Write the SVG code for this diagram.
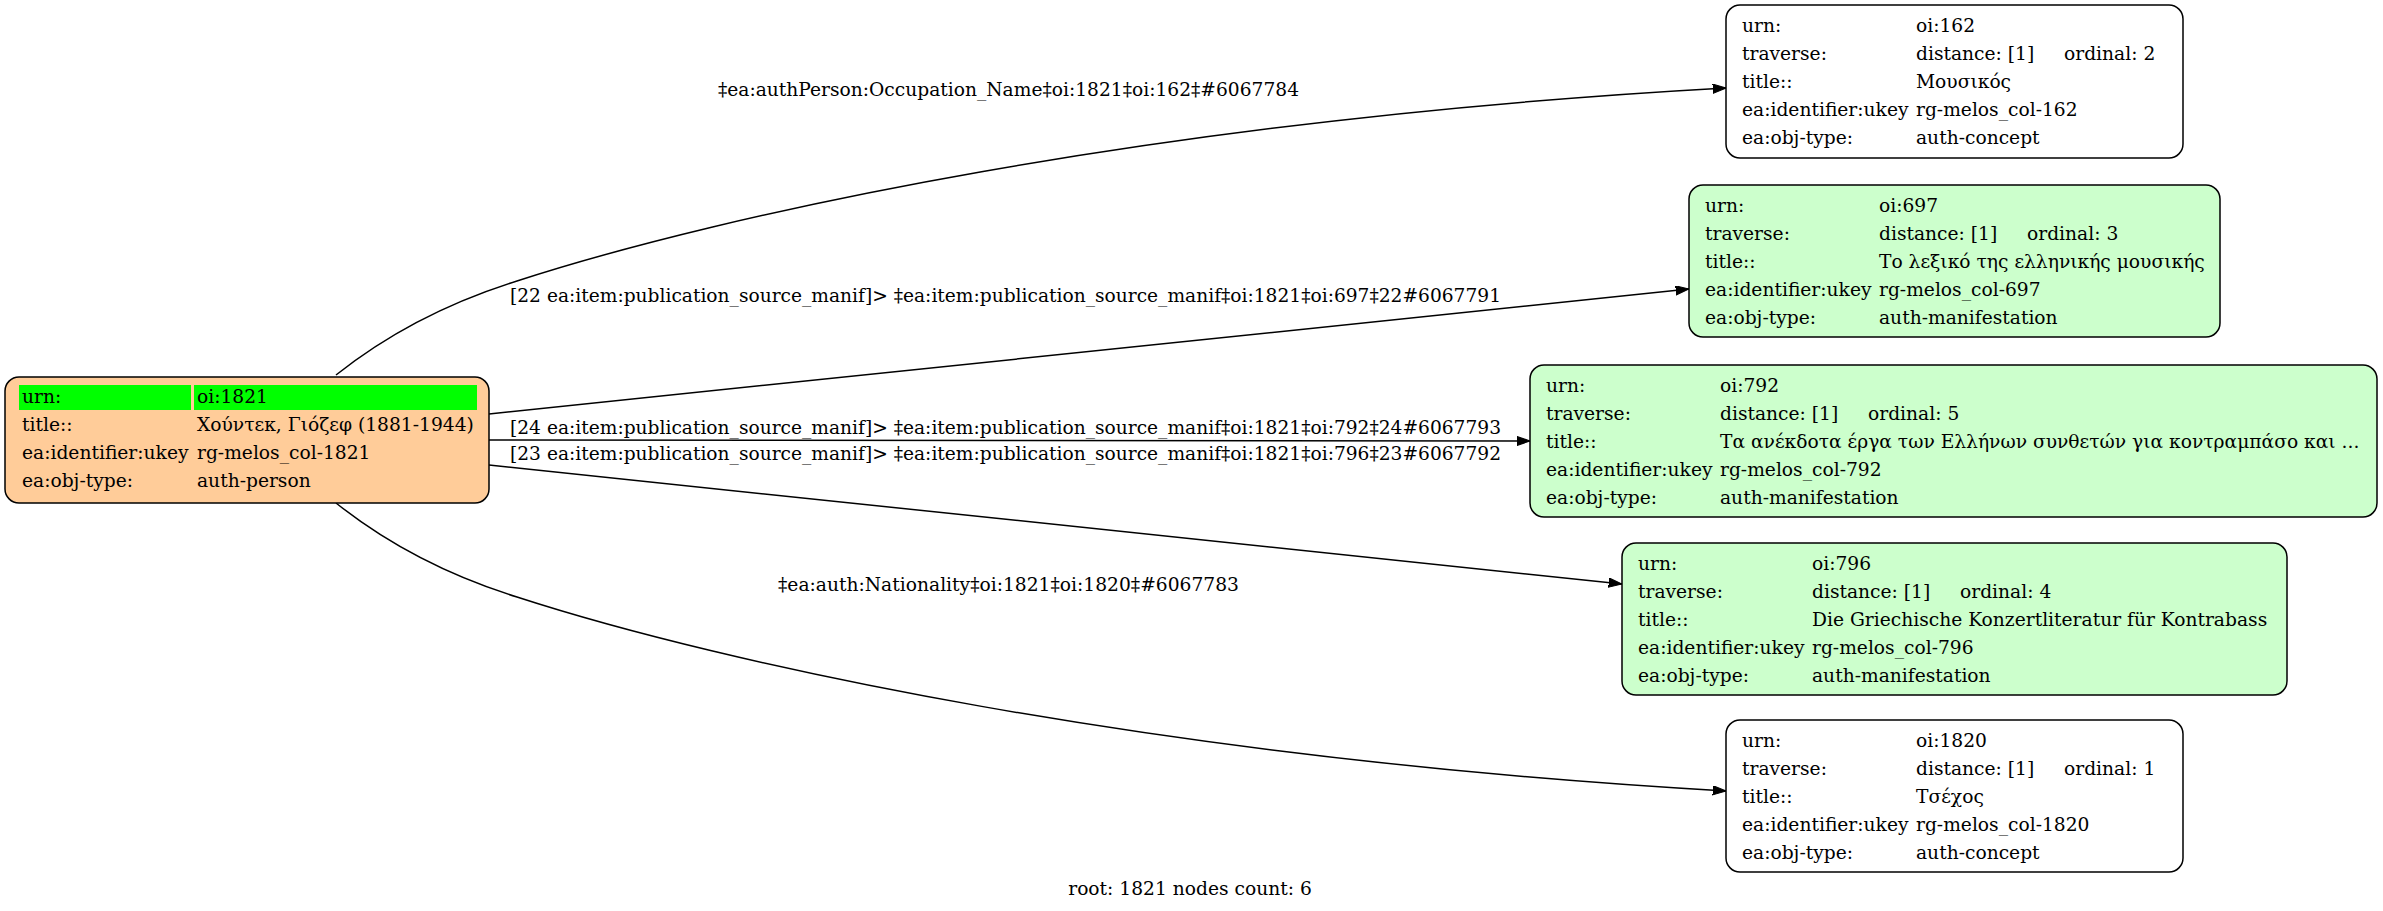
<svg xmlns="http://www.w3.org/2000/svg" width="2383" height="911" viewBox="0 0 2383 911">
<defs>
<marker id="arr" markerUnits="userSpaceOnUse" markerWidth="14" markerHeight="10" refX="13.3" refY="4.65" orient="auto">
<path d="M0,0 L13.3,4.65 L0,9.3 z" fill="#000" stroke="#000" stroke-width="1"/>
</marker>
<style>
text{font-family:"DejaVu Serif","Liberation Serif",serif;font-size:18.67px;fill:#000}
.box{stroke:#000;stroke-width:1.5}
.peach{fill:#ffcc99}
.green{fill:#ccffcc}
.white{fill:#fff}
.hl{fill:#00ff00}
.edge{fill:none;stroke:#000;stroke-width:1.5;marker-end:url(#arr)}
</style>
</defs>
<rect width="2383" height="911" fill="#fff"/>
<g id="connectors">
<path class="edge" d="M336,375 C380,340 440,305 517,281 C720,215 1150,120 1726,88"/>
<path class="edge" d="M489,414 L1689,289"/>
<path class="edge" d="M489,440 L1530,441"/>
<path class="edge" d="M489,465 L1622,584"/>
<path class="edge" d="M336,503 C380,538 440,573 517,597 C720,663 1150,758 1726,791"/>
<text x="718" y="96" textLength="581" lengthAdjust="spacingAndGlyphs">‡ea:authPerson:Occupation_Name‡oi:1821‡oi:162‡#6067784</text>
<text x="510" y="302" textLength="991" lengthAdjust="spacingAndGlyphs">[22 ea:item:publication_source_manif]&gt; ‡ea:item:publication_source_manif‡oi:1821‡oi:697‡22#6067791</text>
<text x="510" y="434" textLength="991" lengthAdjust="spacingAndGlyphs">[24 ea:item:publication_source_manif]&gt; ‡ea:item:publication_source_manif‡oi:1821‡oi:792‡24#6067793</text>
<text x="510" y="460" textLength="991" lengthAdjust="spacingAndGlyphs">[23 ea:item:publication_source_manif]&gt; ‡ea:item:publication_source_manif‡oi:1821‡oi:796‡23#6067792</text>
<text x="778" y="591" textLength="461" lengthAdjust="spacingAndGlyphs">‡ea:auth:Nationality‡oi:1821‡oi:1820‡#6067783</text>
</g>
<g id="node-1821">
<rect class="box peach" x="5" y="377" width="484" height="126" rx="14"/>
<rect class="hl" x="19" y="385" width="172" height="25"/>
<rect class="hl" x="194" y="385" width="283" height="25"/>
<text x="22" y="403">urn:</text><text x="197" y="403">oi:1821</text>
<text x="22" y="431">title::</text><text x="197" y="431">Χούντεκ, Γιόζεφ (1881-1944)</text>
<text x="22" y="459">ea:identifier:ukey</text><text x="197" y="459">rg-melos_col-1821</text>
<text x="22" y="487">ea:obj-type:</text><text x="197" y="487">auth-person</text>
</g>
<g id="node-162">
<rect class="box white" x="1726" y="5" width="457" height="153" rx="14"/>
<text x="1742" y="32">urn:</text><text x="1916" y="32">oi:162</text>
<text x="1742" y="60">traverse:</text><text x="1916" y="60">distance: [1]</text><text x="2064" y="60">ordinal: 2</text>
<text x="1742" y="88">title::</text><text x="1916" y="88">Μουσικός</text>
<text x="1742" y="116">ea:identifier:ukey</text><text x="1916" y="116">rg-melos_col-162</text>
<text x="1742" y="144">ea:obj-type:</text><text x="1916" y="144">auth-concept</text>
</g>
<g id="node-697">
<rect class="box green" x="1689" y="185" width="531" height="152" rx="14"/>
<text x="1705" y="212">urn:</text><text x="1879" y="212">oi:697</text>
<text x="1705" y="240">traverse:</text><text x="1879" y="240">distance: [1]</text><text x="2027" y="240">ordinal: 3</text>
<text x="1705" y="268">title::</text><text x="1879" y="268">Το λεξικό της ελληνικής μουσικής</text>
<text x="1705" y="296">ea:identifier:ukey</text><text x="1879" y="296">rg-melos_col-697</text>
<text x="1705" y="324">ea:obj-type:</text><text x="1879" y="324">auth-manifestation</text>
</g>
<g id="node-792">
<rect class="box green" x="1530" y="365" width="847" height="152" rx="14"/>
<text x="1546" y="392">urn:</text><text x="1720" y="392">oi:792</text>
<text x="1546" y="420">traverse:</text><text x="1720" y="420">distance: [1]</text><text x="1868" y="420">ordinal: 5</text>
<text x="1546" y="448">title::</text><text x="1720" y="448">Τα ανέκδοτα έργα των Ελλήνων συνθετών για κοντραμπάσο και ...</text>
<text x="1546" y="476">ea:identifier:ukey</text><text x="1720" y="476">rg-melos_col-792</text>
<text x="1546" y="504">ea:obj-type:</text><text x="1720" y="504">auth-manifestation</text>
</g>
<g id="node-796">
<rect class="box green" x="1622" y="543" width="665" height="152" rx="14"/>
<text x="1638" y="570">urn:</text><text x="1812" y="570">oi:796</text>
<text x="1638" y="598">traverse:</text><text x="1812" y="598">distance: [1]</text><text x="1960" y="598">ordinal: 4</text>
<text x="1638" y="626">title::</text><text x="1812" y="626">Die Griechische Konzertliteratur für Kontrabass</text>
<text x="1638" y="654">ea:identifier:ukey</text><text x="1812" y="654">rg-melos_col-796</text>
<text x="1638" y="682">ea:obj-type:</text><text x="1812" y="682">auth-manifestation</text>
</g>
<g id="node-1820">
<rect class="box white" x="1726" y="720" width="457" height="152" rx="14"/>
<text x="1742" y="747">urn:</text><text x="1916" y="747">oi:1820</text>
<text x="1742" y="775">traverse:</text><text x="1916" y="775">distance: [1]</text><text x="2064" y="775">ordinal: 1</text>
<text x="1742" y="803">title::</text><text x="1916" y="803">Τσέχος</text>
<text x="1742" y="831">ea:identifier:ukey</text><text x="1916" y="831">rg-melos_col-1820</text>
<text x="1742" y="859">ea:obj-type:</text><text x="1916" y="859">auth-concept</text>
</g>
<g id="footer">
<text x="1190" y="895" text-anchor="middle">root: 1821 nodes count: 6</text>
</g>
</svg>
